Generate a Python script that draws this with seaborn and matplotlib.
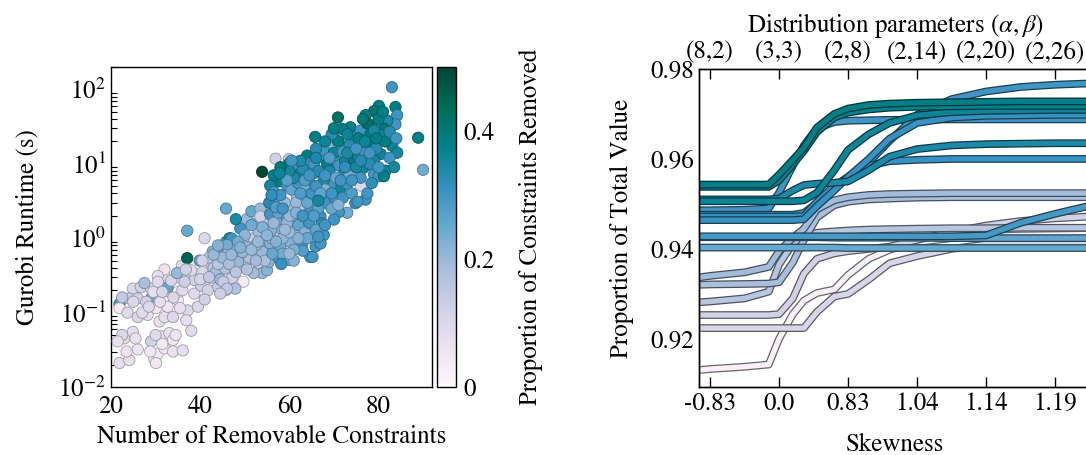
import numpy as np
import pandas as pd
import matplotlib
matplotlib.use("Agg")
import matplotlib.pyplot as plt
import matplotlib.patheffects as pe
from matplotlib.ticker import LogLocator, NullFormatter
import seaborn as sns

# ---------------- left panel data ----------------
# lower-left cluster
xA = [21.9, 24.1, 23.0, 24.9, 22.5, 21.5, 26.0, 29.0, 29.7, 30.5, 30.1, 31.2, 33.1, 33.9, 32.0, 33.9, 36.1, 38.0, 28.8, 31.5, 23.5, 25.5, 34.5, 30.0]
tA = [0.021, 0.023, 0.045, 0.055, 0.050, 0.041, 0.032, 0.041, 0.024, 0.028, 0.021, 0.048, 0.053, 0.043, 0.033, 0.030, 0.031, 0.057, 0.030, 0.038, 0.030, 0.045, 0.050, 0.050]
pA = [0.08, 0.07, 0.09, 0.08, 0.10, 0.07, 0.06, 0.12, 0.06, 0.04, 0.05, 0.08, 0.07, 0.05, 0.06, 0.07, 0.08, 0.09, 0.05, 0.04, 0.06, 0.07, 0.06, 0.09]

# main band, 20-46 constraints
xB = [21.9, 21.9, 24.9, 26.7, 29.0, 24.1, 26.0, 29.0, 27.9, 23.7,
      26.0, 28.2, 30.1, 30.9, 32.0, 33.9, 32.7, 35.0, 33.1, 35.0,
      32.7, 37.2, 36.9, 38.7, 39.5, 40.2, 32.0, 35.0, 37.2, 38.7,
      42.5, 44.0, 45.8, 41.7, 32.0, 30.5, 35.9, 38.0, 39.9, 42.5,
      44.0, 42.8, 44.7, 45.8, 46.6, 45.8, 37.1, 41.0, 37.1, 25.0,
      27.0, 31.0, 34.0, 36.0, 29.5, 40.5, 43.0, 41.0, 30.5, 33.5,
      36.5, 40.0, 22.5, 35.5, 42.0, 43.5, 44.5, 27.5, 31.5, 28.5,
      34.8, 36.8]
tB = [0.13, 0.115, 0.21, 0.22, 0.21, 0.155, 0.155, 0.155, 0.14, 0.10,
      0.087, 0.093, 0.115, 0.076, 0.087, 0.087, 0.12, 0.148, 0.19, 0.19,
      0.22, 0.107, 0.079, 0.18, 0.12, 0.23, 0.32, 0.30, 0.32, 0.275,
      0.29, 0.22, 0.20, 0.20, 0.38, 0.31, 0.43, 0.37, 0.50, 0.46,
      0.51, 0.66, 0.69, 0.89, 1.00, 2.50, 1.26, 1.00, 0.54, 0.14,
      0.10, 0.14, 0.16, 0.20, 0.19, 0.35, 0.40, 0.15, 0.26, 0.27,
      0.26, 0.28, 0.16, 0.115, 0.55, 0.35, 0.28, 0.25, 0.19, 0.12,
      0.34, 0.38]
pB = [0.30, 0.04, 0.10, 0.12, 0.10, 0.14, 0.12, 0.26, 0.12, 0.09,
      0.10, 0.08, 0.05, 0.07, 0.08, 0.10, 0.06, 0.04, 0.08, 0.02,
      0.26, 0.10, 0.08, 0.09, 0.10, 0.12, 0.09, 0.08, 0.10, 0.12,
      0.10, 0.14, 0.14, 0.12, 0.06, 0.08, 0.10, 0.09, 0.27, 0.12,
      0.04, 0.22, 0.28, 0.28, 0.35, 0.25, 0.25, 0.10, 0.45, 0.10,
      0.09, 0.08, 0.10, 0.09, 0.08, 0.10, 0.15, 0.12, 0.09, 0.11,
      0.13, 0.11, 0.15, 0.07, 0.15, 0.18, 0.20, 0.18, 0.11, 0.10,
      0.20, 0.12]

# 44-56 constraints
xC = [47.1, 49.0, 52.0, 54.2, 50.5, 47.5, 46.0, 46.7, 49.4, 52.0,
      53.9, 55.7, 52.7, 50.5, 55.7, 53.1, 50.1, 47.5, 45.6, 49.7,
      47.1, 45.2, 47.9, 46.0, 44.5, 53.9, 52.0, 55.0, 55.4, 54.0,
      51.5, 48.0, 53.5, 51.0, 48.5, 46.0, 54.5, 52.5, 50.0, 48.5,
      44.0, 45.0, 53.0, 51.5, 54.5, 49.5, 53.5]
tC = [0.99, 1.35, 1.00, 0.93, 0.76, 0.72, 0.81, 0.54, 0.56, 0.63,
      0.66, 0.85, 1.58, 1.80, 1.50, 0.46, 0.46, 0.39, 0.39, 0.26,
      0.29, 0.26, 0.21, 0.21, 0.18, 0.34, 0.34, 0.37, 0.48, 2.20,
      2.30, 1.80, 2.50, 0.55, 0.48, 0.60, 0.50, 0.80, 1.10, 0.90,
      0.45, 0.55, 1.25, 1.50, 1.80, 0.65, 1.95]
pC = [0.30, 0.30, 0.14, 0.20, 0.20, 0.22, 0.24, 0.29, 0.22, 0.17,
      0.20, 0.22, 0.22, 0.20, 0.20, 0.12, 0.18, 0.20, 0.17, 0.04,
      0.12, 0.14, 0.17, 0.15, 0.13, 0.20, 0.19, 0.22, 0.22, 0.08,
      0.25, 0.34, 0.20, 0.17, 0.20, 0.19, 0.18, 0.20, 0.21, 0.24,
      0.16, 0.20, 0.19, 0.24, 0.17, 0.20, 0.12]

# 54-66 constraints
xD = [53.9, 56.9, 59.9, 59.9, 57.6, 61.7, 62.5, 59.1, 55.7, 56.5,
      59.5, 61.7, 64.7, 64.0, 64.7, 58.7, 55.7, 61.7, 63.2, 64.7,
      58.0, 60.2, 62.9, 64.7, 61.0, 58.0, 57.6, 59.9, 61.0, 65.2,
      65.9, 56.0, 57.0, 58.5, 59.5, 60.5, 62.0, 63.5, 64.5, 56.5,
      57.5, 59.0, 60.5, 62.0, 63.5, 61.0, 63.0, 60.0, 58.0, 56.5,
      62.5, 61.5, 60.0, 57.5, 55.5, 56.0, 58.5, 63.0, 64.0, 62.0,
      60.0, 57.0, 64.0, 65.0, 62.5, 60.5, 58.0, 63.5, 65.5, 59.5,
      61.0, 56.2, 58.2, 60.0]
tD = [7.8, 11.7, 11.5, 10.0, 5.8, 9.1, 7.4, 7.4, 5.1, 4.2,
      5.1, 3.5, 5.4, 12.9, 10.0, 1.95, 2.1, 1.95, 3.5, 2.4,
      0.76, 0.89, 0.85, 0.56, 1.29, 1.35, 0.54, 0.51, 0.50, 0.56,
      0.78, 1.00, 1.70, 1.00, 1.60, 2.50, 1.50, 1.20, 1.60, 2.80,
      3.50, 3.00, 4.50, 5.50, 4.50, 6.50, 8.50, 8.00, 9.00, 7.00,
      2.80, 3.00, 2.00, 2.20, 3.00, 1.30, 0.62, 0.68, 1.00, 1.00,
      1.20, 0.90, 3.00, 4.00, 11.0, 11.0, 3.80, 6.00, 7.50, 6.00,
      0.70, 0.62, 0.45, 0.62]
pD = [0.50, 0.12, 0.14, 0.38, 0.38, 0.30, 0.36, 0.36, 0.35, 0.30,
      0.30, 0.17, 0.30, 0.38, 0.30, 0.30, 0.30, 0.24, 0.30, 0.30,
      0.24, 0.22, 0.30, 0.31, 0.20, 0.22, 0.29, 0.24, 0.22, 0.30,
      0.30, 0.20, 0.24, 0.21, 0.20, 0.18, 0.26, 0.22, 0.30, 0.30,
      0.28, 0.20, 0.26, 0.30, 0.24, 0.34, 0.33, 0.35, 0.40, 0.38,
      0.15, 0.20, 0.20, 0.26, 0.33, 0.22, 0.24, 0.28, 0.25, 0.22,
      0.20, 0.22, 0.25, 0.30, 0.34, 0.30, 0.30, 0.28, 0.30, 0.27,
      0.23, 0.25, 0.31, 0.20]

# 65-76 constraints
xE = [65.8, 67.0, 68.5, 68.5, 67.0, 67.0, 70.9, 70.0, 74.1, 73.7,
      71.8, 68.8, 71.8, 67.7, 70.3, 74.1, 74.5, 71.1, 72.2, 76.0,
      74.8, 73.0, 71.1, 70.0, 68.5, 70.0, 71.5, 73.0, 69.2, 67.7,
      67.3, 67.7, 67.0, 66.0, 66.5, 69.0, 70.5, 72.5, 73.5, 71.0,
      69.5, 68.0, 66.0, 65.5, 66.5, 68.0, 72.0, 74.0, 73.5, 70.0,
      72.0, 74.5, 66.0, 69.5, 67.0, 71.0, 66.5, 69.0, 73.0, 70.0]
tE = [23.0, 12.3, 10.0, 3.5, 1.95, 2.95, 42.0, 23.0, 23.0, 31.0,
      29.5, 16.6, 17.4, 15.1, 12.9, 14.1, 8.9, 9.5, 7.2, 5.1,
      2.95, 2.2, 2.24, 1.78, 2.95, 3.6, 4.7, 5.4, 5.1, 6.0,
      1.58, 1.1, 0.85, 1.3, 2.5, 8.0, 6.5, 11.0, 18.0, 20.0,
      25.0, 20.0, 16.0, 10.0, 8.0, 4.5, 3.5, 4.0, 7.0, 14.0,
      14.5, 11.5, 5.0, 2.5, 4.0, 2.8, 3.2, 12.0, 25.0, 30.0]
pE = [0.38, 0.30, 0.38, 0.30, 0.30, 0.28, 0.42, 0.30, 0.30, 0.38,
      0.38, 0.22, 0.22, 0.30, 0.30, 0.30, 0.30, 0.30, 0.34, 0.10,
      0.31, 0.24, 0.30, 0.30, 0.30, 0.30, 0.36, 0.30, 0.30, 0.34,
      0.32, 0.30, 0.30, 0.26, 0.27, 0.34, 0.25, 0.36, 0.33, 0.38,
      0.33, 0.36, 0.33, 0.30, 0.33, 0.22, 0.30, 0.28, 0.24, 0.36,
      0.30, 0.38, 0.30, 0.25, 0.26, 0.22, 0.35, 0.28, 0.36, 0.38]

# 75-90 constraints
xF = [83.0, 88.9, 90.0, 80.1, 79.0, 77.1, 83.8, 84.2, 83.8, 82.0,
      81.2, 78.6, 76.0, 78.2, 80.8, 83.1, 84.2, 78.2, 76.0, 80.5,
      76.7, 79.0, 81.6, 79.0, 80.1, 81.2, 77.1, 75.3, 77.5, 76.0,
      78.0, 75.5, 77.0, 79.5, 81.5, 82.5, 75.5, 77.5, 80.0, 81.0,
      82.5, 84.0, 76.5, 79.0, 80.0, 78.5, 83.5]
tF = [107, 22.4, 8.3, 60, 51, 45, 58, 45, 34, 38,
      29.5, 32.4, 28, 25, 24, 17.4, 14.1, 18.6, 17.4, 13.5,
      8.9, 11, 8.1, 7.2, 6.8, 6.8, 3.3, 3.1, 4.0, 6.5,
      10.0, 12.0, 14.0, 16.0, 20.0, 12.0, 22.0, 35.0, 40.0, 50.0,
      27.0, 22.0, 40.0, 28.0, 9.0, 5.5, 9.0]
pF = [0.30, 0.38, 0.24, 0.38, 0.41, 0.38, 0.38, 0.30, 0.30, 0.34,
      0.40, 0.38, 0.30, 0.38, 0.36, 0.36, 0.35, 0.38, 0.30, 0.36,
      0.36, 0.35, 0.36, 0.30, 0.30, 0.38, 0.30, 0.30, 0.30, 0.30,
      0.33, 0.36, 0.30, 0.33, 0.38, 0.30, 0.38, 0.42, 0.38, 0.38,
      0.33, 0.30, 0.40, 0.35, 0.30, 0.32, 0.35]

# extra points inside the dense band
xG = [40.5, 42.0, 43.0, 44.0, 46.5, 47.0, 48.0, 49.0, 50.5, 51.5,
      52.5, 53.0, 54.0, 55.0, 56.5, 57.0, 58.5, 59.0, 56.0, 57.8,
      61.5, 63.0, 62.5, 64.5, 65.5, 66.0, 68.0, 69.5, 66.5, 68.0,
      71.5, 72.5, 74.0, 75.0, 76.0, 77.0, 78.0, 79.5, 73.0, 75.0]
tG = [0.50, 0.30, 0.60, 0.80, 0.45, 0.60, 0.35, 0.75, 0.38, 0.70,
      0.50, 0.90, 1.40, 1.10, 1.60, 2.60, 2.50, 1.30, 3.80, 7.50,
      2.20, 2.00, 4.00, 7.00, 2.00, 12.0, 7.00, 4.00, 1.05, 1.50,
      6.00, 9.00, 6.00, 9.00, 11.0, 20.0, 14.0, 22.0, 14.0, 16.0]
pG = [0.12, 0.15, 0.20, 0.22, 0.18, 0.20, 0.16, 0.22, 0.17, 0.20,
      0.19, 0.20, 0.22, 0.21, 0.20, 0.28, 0.30, 0.20, 0.32, 0.36,
      0.22, 0.30, 0.28, 0.30, 0.28, 0.34, 0.30, 0.30, 0.30, 0.30,
      0.30, 0.32, 0.30, 0.35, 0.33, 0.36, 0.30, 0.38, 0.34, 0.30]

# ---------------- right panel data ----------------
skew_labels = ["-0.83", "0.0", "0.83", "1.04", "1.14", "1.19"]
param_labels = ["(8,2)", "(3,3)", "(2,8)", "(2,14)", "(2,20)", "(2,26)"]
x_pos = [-0.2, 0.0, 0.5, 0.85, 1.0, 1.2, 1.36, 1.55, 1.8, 2.0, 2.3, 2.6, 3.0, 3.5, 4.0, 4.5, 5.0, 5.5]

L1 = [0.9543, 0.9543, 0.9543, 0.9543, 0.9565, 0.9598, 0.9625, 0.9670, 0.9700, 0.9712, 0.9720, 0.9723, 0.9725, 0.9726, 0.9727, 0.9728, 0.9728, 0.9728]
L1b = [0.9538, 0.9538, 0.9538, 0.9538, 0.9552, 0.9588, 0.9618, 0.9660, 0.9692, 0.9703, 0.9710, 0.9714, 0.9716, 0.9717, 0.9718, 0.9718, 0.9718, 0.9718]
L2 = [0.9486, 0.9486, 0.9487, 0.9490, 0.9525, 0.9585, 0.9630, 0.9668, 0.9682, 0.9685, 0.9686, 0.9687, 0.9687, 0.9688, 0.9688, 0.9688, 0.9688, 0.9688]
L3 = [0.9510, 0.9510, 0.9510, 0.9510, 0.9512, 0.9530, 0.9542, 0.9545, 0.9547, 0.9550, 0.9575, 0.9605, 0.9622, 0.9630, 0.9633, 0.9634, 0.9635, 0.9635]
L4 = [0.9506, 0.9506, 0.9506, 0.9506, 0.9506, 0.9506, 0.9508, 0.9525, 0.9575, 0.9620, 0.9655, 0.9680, 0.9697, 0.9704, 0.9707, 0.9708, 0.9709, 0.9709]
L5 = [0.9472, 0.9472, 0.9472, 0.9472, 0.9472, 0.9472, 0.9473, 0.9505, 0.9540, 0.9560, 0.9585, 0.9595, 0.9598, 0.9600, 0.9600, 0.9600, 0.9600, 0.9600]
L6 = [0.9476, 0.9476, 0.9476, 0.9476, 0.9476, 0.9476, 0.9480, 0.9502, 0.9535, 0.9560, 0.9592, 0.9640, 0.9698, 0.9733, 0.9750, 0.9760, 0.9765, 0.9768]
L7 = [0.9464, 0.9464, 0.9464, 0.9464, 0.9464, 0.9464, 0.9466, 0.9495, 0.9530, 0.9560, 0.9600, 0.9645, 0.9680, 0.9692, 0.9696, 0.9697, 0.9698, 0.9698]
L8 = [0.9426, 0.9426, 0.9426, 0.9426, 0.9426, 0.9426, 0.9426, 0.9426, 0.9425, 0.9425, 0.9425, 0.9425, 0.9425, 0.9424, 0.9424, 0.9424, 0.9424, 0.9424]
L9 = [0.9403, 0.9403, 0.9403, 0.9403, 0.9403, 0.9403, 0.9403, 0.9403, 0.9403, 0.9402, 0.9402, 0.9402, 0.9402, 0.9402, 0.9402, 0.9402, 0.9402, 0.9402]
L16 = [0.9428, 0.9428, 0.9428, 0.9428, 0.9428, 0.9428, 0.9428, 0.9428, 0.9428, 0.9428, 0.9428, 0.9428, 0.9428, 0.9428, 0.9430, 0.9458, 0.9478, 0.9496]
L10 = [0.9336, 0.9340, 0.9348, 0.9360, 0.9395, 0.9425, 0.9445, 0.9488, 0.9508, 0.9515, 0.9520, 0.9522, 0.9523, 0.9524, 0.9524, 0.9524, 0.9524, 0.9524]
L11 = [0.9320, 0.9321, 0.9322, 0.9323, 0.9326, 0.9370, 0.9420, 0.9470, 0.9497, 0.9505, 0.9510, 0.9512, 0.9514, 0.9515, 0.9515, 0.9515, 0.9515, 0.9515]
L12 = [0.9281, 0.9283, 0.9290, 0.9305, 0.9365, 0.9412, 0.9428, 0.9436, 0.9439, 0.9441, 0.9443, 0.9444, 0.9445, 0.9446, 0.9446, 0.9447, 0.9447, 0.9447]
L13 = [0.9253, 0.9253, 0.9253, 0.9253, 0.9255, 0.9290, 0.9345, 0.9378, 0.9390, 0.9395, 0.9400, 0.9405, 0.9420, 0.9438, 0.9452, 0.9462, 0.9468, 0.9472]
L14 = [0.9224, 0.9224, 0.9224, 0.9224, 0.9224, 0.9224, 0.9224, 0.9260, 0.9294, 0.9300, 0.9332, 0.9368, 0.9384, 0.9400, 0.9410, 0.9412, 0.9413, 0.9413]
L15 = [0.9130, 0.9133, 0.9138, 0.9143, 0.9200, 0.9255, 0.9285, 0.9302, 0.9310, 0.9342, 0.9378, 0.9398, 0.9415, 0.9424, 0.9428, 0.9430, 0.9431, 0.9432]

line_values = [L1, L1b, L2, L3, L4, L5, L6, L7, L8, L9, L16, L10, L11, L12, L13, L14, L15]
line_props = [0.38, 0.37, 0.30, 0.34, 0.36, 0.31, 0.30, 0.31, 0.26, 0.25, 0.29, 0.19, 0.18, 0.16, 0.12, 0.11, 0.02]

# ---------------- style ----------------
sns.set_theme(style="white")
plt.rcParams["font.family"] = ["STIXGeneral", "DejaVu Serif"]
plt.rcParams["mathtext.fontset"] = "stix"
plt.rcParams["font.size"] = 18
plt.rcParams["axes.labelsize"] = 18
plt.rcParams["xtick.labelsize"] = 18
plt.rcParams["ytick.labelsize"] = 18
plt.rcParams["axes.edgecolor"] = "black"
plt.rcParams["axes.linewidth"] = 1.0
plt.rcParams["xtick.color"] = "black"
plt.rcParams["ytick.color"] = "black"
plt.rcParams["text.color"] = "black"
plt.rcParams["axes.labelcolor"] = "black"

W, H = 1086, 455
fig = plt.figure(figsize=(W / 100, H / 100), dpi=100)
ax1 = fig.add_axes([111 / W, 68 / H, 321 / W, 320 / H])
cax = fig.add_axes([437 / W, 68 / H, 19 / W, 320 / H])
ax2 = fig.add_axes([699 / W, 68 / H, 392 / W, 318 / H])

cmap = "PuBuGn"
norm = (0.0, 0.5)

# ---------------- left scatter ----------------
scatter_df = pd.DataFrame({
    "n": xA + xB + xC + xD + xE + xF + xG,
    "t": tA + tB + tC + tD + tE + tF + tG,
    "p": pA + pB + pC + pD + pE + pF + pG,
})
sns.scatterplot(data=scatter_df, x="n", y="t", hue="p", palette=cmap, hue_norm=norm,
                s=66, linewidth=0.6, legend=False, ax=ax1, zorder=3)
coll = ax1.collections[0]
fc = np.array(coll.get_facecolors())
ec = fc.copy()
ec[:, :3] *= 0.7
coll.set_edgecolors(ec)

ax1.set_yscale("log")
ax1.set_ylim(0.01, 200)
ax1.set_xlim(20, 92)
ax1.set_xticks([20, 40, 60, 80])
ax1.yaxis.set_major_locator(LogLocator(base=10, numticks=10))
ax1.yaxis.set_minor_locator(LogLocator(base=10, subs=np.arange(2, 10), numticks=20))
ax1.yaxis.set_minor_formatter(NullFormatter())
ax1.tick_params(axis="both", which="major", direction="in", length=7, width=1.0, top=False, right=False)
ax1.tick_params(axis="x", which="major", pad=6)
ax1.tick_params(axis="y", which="minor", direction="in", length=4, width=0.8, left=True, right=False)
ax1.tick_params(axis="x", which="minor", bottom=False, top=False)
ax1.set_xlabel("Number of Removable Constraints", labelpad=4)
ax1.set_ylabel("Gurobi Runtime (s)", labelpad=14)
for s in ax1.spines.values():
    s.set_visible(True)
    s.set_color("black")

sm = plt.cm.ScalarMappable(cmap=cmap, norm=plt.Normalize(*norm))
cb = fig.colorbar(sm, cax=cax)
cb.set_ticks([0, 0.2, 0.4])
cb.set_ticklabels(["0", "0.2", "0.4"])
cb.ax.tick_params(direction="in", length=13.5, width=0.8, color="0.45", pad=5)
cb.outline.set_edgecolor("black")
cb.outline.set_linewidth(1.0)
cb.set_label("Proportion of Constraints Removed", labelpad=18)

# ---------------- right lines ----------------
rows = []
for i, (vals, pr) in enumerate(zip(line_values, line_props)):
    for xp, v in zip(x_pos, vals):
        rows.append({"line": i, "x": xp, "value": v, "prop": pr})
lines_df = pd.DataFrame(rows)
sns.lineplot(data=lines_df, x="x", y="value", hue="prop", units="line", estimator=None,
             palette=cmap, hue_norm=norm, linewidth=3.8, legend=False, sort=False, ax=ax2)
for ln in ax2.get_lines():
    c = np.array(matplotlib.colors.to_rgb(ln.get_color()))
    dark = tuple(c * 0.42)
    ln.set_solid_joinstyle("round")
    ln.set_path_effects([pe.Stroke(linewidth=5.6, foreground=dark), pe.Normal()])

ax2.set_xlim(-0.16, 5.52)
ax2.set_ylim(0.9093, 0.98)
ax2.set_xticks(range(6))
ax2.set_xticklabels(skew_labels)
ax2.set_yticks([0.92, 0.94, 0.96, 0.98])
ax2.set_yticklabels(["0.92", "0.94", "0.96", "0.98"])
ax2.tick_params(axis="both", direction="in", length=7, width=1.0, top=False, right=False)
ax2.set_xlabel("Skewness", labelpad=12)
ax2.set_ylabel("Proportion of Total Value", labelpad=12)
ax2.spines["right"].set_visible(False)

ax3 = ax2.twiny()
ax3.set_xlim(ax2.get_xlim())
ax3.set_xticks(range(6))
ax3.set_xticklabels(param_labels)
ax3.tick_params(axis="x", direction="in", length=7, width=1.0, pad=3)
ax3.set_xlabel(r"Distribution parameters $(\alpha, \beta)$", labelpad=6)
ax3.spines["right"].set_visible(False)

fig.savefig("out.png", dpi=100)
